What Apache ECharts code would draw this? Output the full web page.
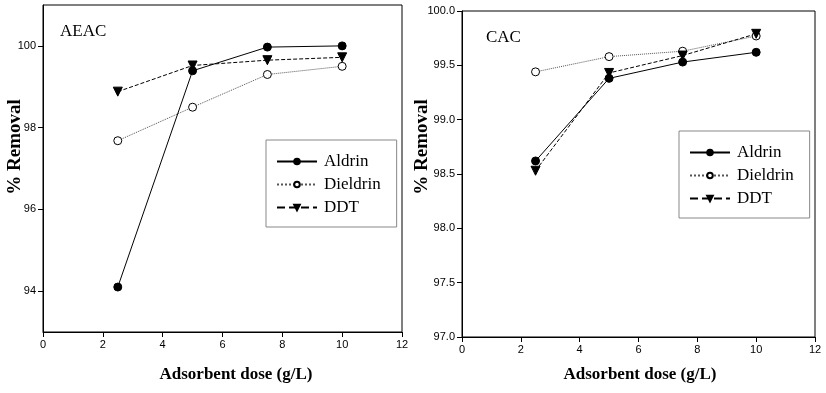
<!DOCTYPE html>
<html>
<head>
<meta charset="utf-8">
<script src="https://cdn.jsdelivr.net/npm/echarts@6/dist/echarts.min.js"></script>
<style>
  html, body { margin: 0; padding: 0; background: #fff; }
  #chart { width: 826px; height: 393px; }
</style>
</head>
<body>
<div id="chart"></div>
<script>
// adsorbent dose (g/L)
var doses = [2.5, 5, 7.5, 10];
var seriesNames = ['Aldrin', 'Dieldrin', 'DDT'];

// AEAC panel, % removal
var aeacAldrin = [94.1, 99.39, 99.97, 100.0];
var aeacDieldrin = [97.68, 98.5, 99.3, 99.5];
var aeacDDT = [98.88, 99.52, 99.65, 99.72];

// CAC panel, % removal
var cacAldrin = [98.62, 99.38, 99.53, 99.62];
var cacDieldrin = [99.44, 99.58, 99.63, 99.77];
var cacDDT = [98.53, 99.43, 99.59, 99.79];

var aeacTicks = [94, 96, 98, 100];

var chart = echarts.init(document.getElementById('chart'));

function pairs(ys) {
    return doses.map(function (d, i) { return [d, ys[i]]; });
}

var serif = '"Liberation Serif", "DejaVu Serif", serif';
var sans = '"Liberation Sans", Arial, sans-serif';

// styles for each pesticide
var styleOf = {
    Aldrin: { symbol: 'circle', size: 8, rotate: 0, fill: '#000', line: 'solid', color: '#000' },
    Dieldrin: { symbol: 'circle', size: 8, rotate: 0, fill: '#fff', line: 'dotted', color: '#555' },
    DDT: { symbol: 'triangle', size: 9, rotate: 180, fill: '#000', line: 'dashed', color: '#000' }
};

function makeSeries(name, ys, idx) {
    var s = styleOf[name];
    return {
        name: name,
        type: 'line',
        xAxisIndex: idx,
        yAxisIndex: idx,
        data: pairs(ys),
        symbol: s.symbol,
        symbolSize: s.size,
        symbolRotate: s.rotate,
        showAllSymbol: true,
        animation: false,
        lineStyle: { color: s.color, width: 1, type: s.line },
        itemStyle: { color: s.fill, borderColor: '#000', borderWidth: 1 },
        emphasis: { disabled: true }
    };
}

function xAxisFor(idx) {
    return {
        type: 'value', gridIndex: idx, min: 0, max: 12, interval: 2,
        splitLine: { show: false },
        axisLine: { onZero: false, lineStyle: { color: '#000' } },
        axisTick: { length: 5, lineStyle: { color: '#000' } },
        axisLabel: { color: '#000', fontFamily: sans, fontSize: 11, margin: 7 }
    };
}

function legendFor(left, top) {
    return {
        data: seriesNames,
        orient: 'vertical',
        left: left, top: top,
        itemWidth: 40, itemHeight: 7, itemGap: 6,
        padding: [13, 16, 11, 10],
        borderColor: '#888', borderWidth: 1,
        selectedMode: false,
        textStyle: { fontFamily: serif, fontSize: 17, color: '#000', padding: [0, 0, 0, 2] }
    };
}

var option = {
    backgroundColor: '#fff',
    animation: false,
    grid: [
        { left: 43, top: 5, width: 359, height: 327, show: true, borderColor: '#000', borderWidth: 1, backgroundColor: 'transparent' },
        { left: 462, top: 11, width: 353, height: 326, show: true, borderColor: '#000', borderWidth: 1, backgroundColor: 'transparent' }
    ],
    xAxis: [xAxisFor(0), xAxisFor(1)],
    yAxis: [
        {
            type: 'value', gridIndex: 0, min: 93, max: 101,
            splitLine: { show: false },
            axisLine: { onZero: false, lineStyle: { color: '#000' } },
            axisTick: { length: 5, customValues: aeacTicks, lineStyle: { color: '#000' } },
            axisLabel: { customValues: aeacTicks, color: '#000', fontFamily: sans, fontSize: 11, margin: 7 }
        },
        {
            type: 'value', gridIndex: 1, min: 97, max: 100, interval: 0.5,
            splitLine: { show: false },
            axisLine: { onZero: false, lineStyle: { color: '#000' } },
            axisTick: { length: 5, lineStyle: { color: '#000' } },
            axisLabel: {
                color: '#000', fontFamily: sans, fontSize: 11, margin: 7,
                formatter: function (v) { return v.toFixed(1); }
            }
        }
    ],
    legend: [legendFor(266, 140), legendFor(679, 131)],
    graphic: [
        { type: 'text', left: 60, top: 23, style: { text: 'AEAC', font: '17px ' + serif, fill: '#000' } },
        { type: 'text', left: 486, top: 29, style: { text: 'CAC', font: '17px ' + serif, fill: '#000' } },
        { type: 'text', x: 15, y: 147, rotation: Math.PI / 2,
          style: { text: '% Removal', font: 'bold 19px ' + serif, fill: '#000', align: 'center', verticalAlign: 'middle' } },
        { type: 'text', x: 422, y: 147, rotation: Math.PI / 2,
          style: { text: '% Removal', font: 'bold 19px ' + serif, fill: '#000', align: 'center', verticalAlign: 'middle' } },
        { type: 'text', x: 236, y: 375,
          style: { text: 'Adsorbent dose (g/L)', font: 'bold 17px ' + serif, fill: '#000', align: 'center', verticalAlign: 'middle' } },
        { type: 'text', x: 640, y: 375,
          style: { text: 'Adsorbent dose (g/L)', font: 'bold 17px ' + serif, fill: '#000', align: 'center', verticalAlign: 'middle' } }
    ],
    series: [
        makeSeries('Aldrin', aeacAldrin, 0),
        makeSeries('Dieldrin', aeacDieldrin, 0),
        makeSeries('DDT', aeacDDT, 0),
        makeSeries('Aldrin', cacAldrin, 1),
        makeSeries('Dieldrin', cacDieldrin, 1),
        makeSeries('DDT', cacDDT, 1)
    ]
};

chart.setOption(option);
</script>
</body>
</html>
